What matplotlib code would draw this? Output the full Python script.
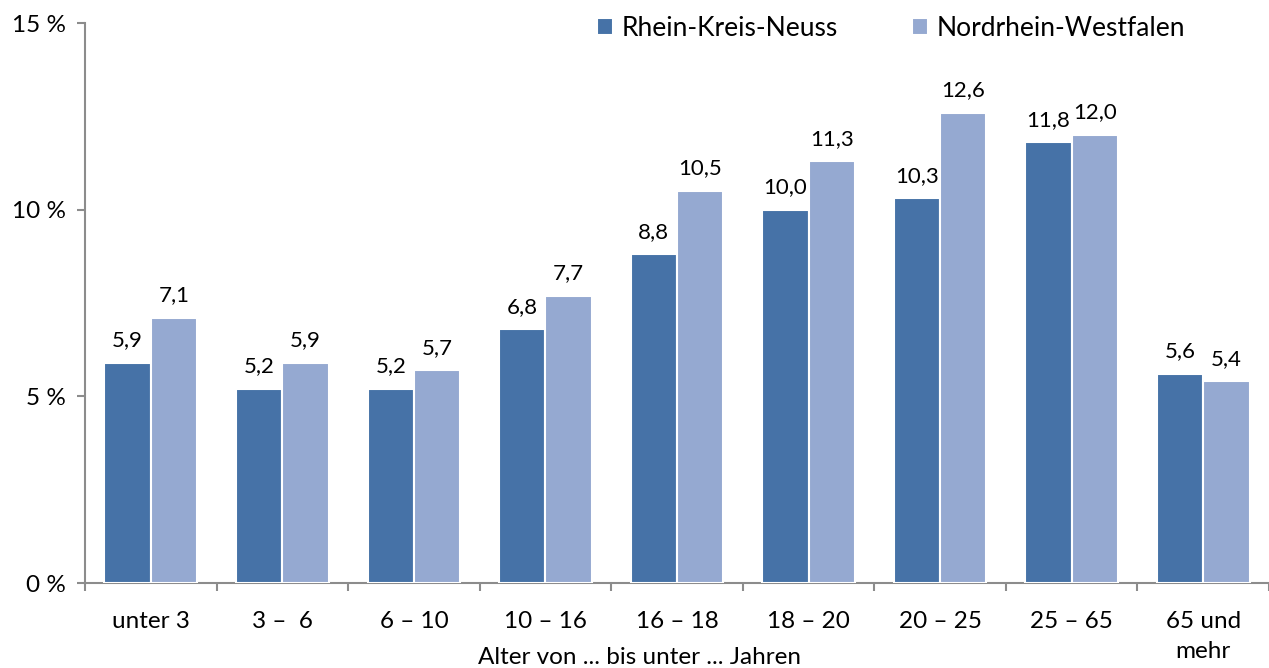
import numpy as np
import matplotlib.pyplot as plt
from matplotlib.ticker import FixedLocator

plt.rcParams['font.family'] = ['Lato', 'DejaVu Sans']

categories = ['unter 3', '3 –  6', '6 – 10', '10 – 16', '16 – 18', '18 – 20', '20 – 25', '25 – 65', '65 und\nmehr']
rkn = [5.9, 5.2, 5.2, 6.8, 8.8, 10.0, 10.3, 11.8, 5.6]
nrw = [7.1, 5.9, 5.7, 7.7, 10.5, 11.3, 12.6, 12.0, 5.4]
series_names = ['Rhein-Kreis-Neuss', 'Nordrhein-Westfalen']
colors = ['#4672A7', '#95A9D1']

fig = plt.figure(figsize=(12.69, 6.68), dpi=100)
ax = fig.add_axes([85 / 1269, 1 - 583 / 668, 1 - 85 / 1269, 560 / 668])

x = np.arange(len(categories))
w = 0.352
for vals, off, col, name in [(rkn, -w / 2, colors[0], series_names[0]), (nrw, w / 2, colors[1], series_names[1])]:
    bars = ax.bar(x + off, vals, w, color=col, edgecolor='white', linewidth=1.5, label=name, zorder=3)
    for b, v in zip(bars, vals):
        ax.annotate(f'{v:.1f}'.replace('.', ','), (b.get_x() + b.get_width() / 2, v),
                    xytext=(0, 9), textcoords='offset points', ha='center', va='bottom', fontsize=16)

ax.set_xlim(-0.5, len(categories) - 0.5)
ax.set_ylim(0, 15)
ax.set_yticks([0, 5, 10, 15])
ax.set_yticklabels(['0 %', '5 %', '10 %', '15 %'])
ax.set_xticks(x)
ax.set_xticklabels(categories, linespacing=1.55, va='top')
ax.xaxis.set_minor_locator(FixedLocator(np.arange(len(categories) + 1) - 0.5))
ax.tick_params(axis='x', which='major', length=0, pad=20, labelsize=17.5)
ax.tick_params(axis='x', which='minor', length=6, color='#8c8c8c', width=1.5)
ax.tick_params(axis='y', length=6, color='#8c8c8c', width=1.5, labelsize=17.5, pad=8)
for s in ['top', 'right']:
    ax.spines[s].set_visible(False)
for s in ['left', 'bottom']:
    ax.spines[s].set_color('#8c8c8c')
    ax.spines[s].set_linewidth(1.5)

ax.set_xlabel('Alter von ... bis unter ... Jahren', fontsize=17.5, va='center')
ax.xaxis.set_label_coords((640 - 85) / 1184, -(658 - 583) / 560)

ax.legend(loc='center left', bbox_to_anchor=(488 / 1184, 1 - 5 / 560), ncol=2, frameon=False, fontsize=19,
          handlelength=0.6, handleheight=0.6, handletextpad=0.35, columnspacing=2.8)

fig.savefig('out.png', dpi=100)
